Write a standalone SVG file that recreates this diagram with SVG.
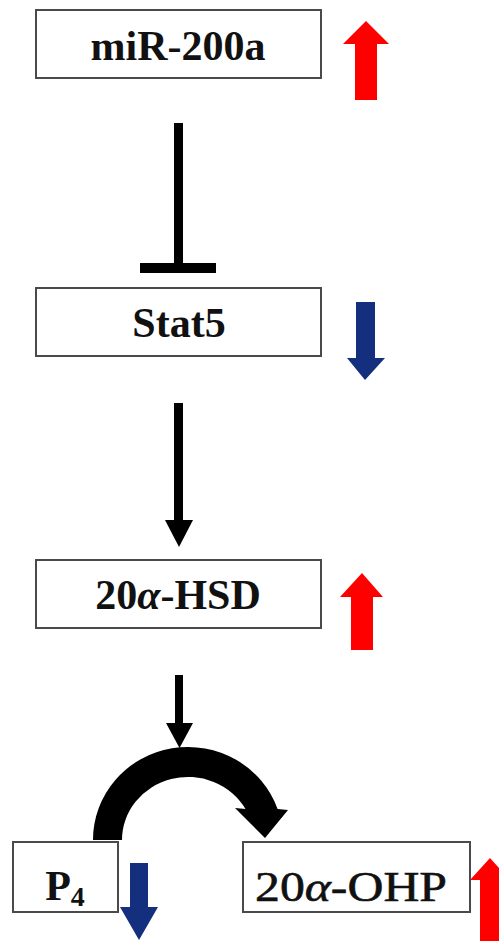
<svg xmlns="http://www.w3.org/2000/svg" width="499" height="941" viewBox="0 0 499 941">
  <style>
    .box { fill: #ffffff; stroke: #4a4a4a; stroke-width: 2; }
    .lbl { font-family: "Liberation Serif", "Times New Roman", serif; font-size: 42px; fill: #111111; text-anchor: middle; }
    .b { font-weight: bold; }
    .semi { stroke: #111111; stroke-width: 0.6; }
    .up { fill: #ff0000; }
    .down { fill: #142f7e; }
    .ink { fill: #000000; }
  </style>
  <rect width="499" height="941" fill="#ffffff"/>

  <!-- connectors -->
  <g id="connectors">
    <!-- miR-200a inhibits Stat5 -->
    <rect class="ink" x="174" y="123" width="9" height="145"/>
    <rect class="ink" x="140" y="263" width="76" height="10"/>
    <!-- Stat5 activates 20a-HSD -->
    <rect class="ink" x="174" y="403" width="9" height="120"/>
    <polygon class="ink" points="165,520 193,520 179,547"/>
    <!-- 20a-HSD acts on the conversion -->
    <rect class="ink" x="175" y="675" width="8" height="50"/>
    <polygon class="ink" points="166,723 193,723 179.5,748"/>
    <!-- P4 to 20a-OHP conversion arc -->
    <path class="ink" d="M 93 840 A 95 93 0 0 1 277.6 809 L 288 810 L 265 838 L 235 808 L 245.5 809 A 66 63 0 0 0 122 840 Z"/>
  </g>

  <!-- nodes -->
  <g id="node-mir200a">
    <rect class="box" x="36" y="10" width="285" height="68"/>
    <text class="lbl b" x="178" y="60">miR-200a</text>
    <polygon class="up" points="366,21 389,44 377,44 377,100 355,100 355,44 343,44"/>
  </g>

  <g id="node-stat5">
    <rect class="box" x="36" y="288" width="285" height="68"/>
    <text class="lbl b" x="179" y="337">Stat5</text>
    <polygon class="down" points="356,302 375,302 375,358 385,358 365,380 347,358 356,358"/>
  </g>

  <g id="node-hsd">
    <rect class="box" x="36" y="560" width="285" height="68"/>
    <text class="lbl b" x="178" y="609">20<tspan font-style="italic">α</tspan>-HSD</text>
    <polygon class="up" points="362,573 383,597 373,597 373,650 351,650 351,597 340,597"/>
  </g>

  <g id="node-p4">
    <rect class="box" x="13" y="842" width="105" height="70"/>
    <text class="lbl b" x="65" y="900">P<tspan font-size="28px" dy="6">4</tspan></text>
    <polygon class="down" points="130,863 148,863 148,907 158,907 139,940 120,907 130,907"/>
  </g>

  <g id="node-ohp">
    <rect class="box" x="243" y="842" width="227" height="70"/>
    <text class="lbl semi" x="351" y="901" textLength="192" lengthAdjust="spacingAndGlyphs">20<tspan font-style="italic">α</tspan>-OHP</text>
    <polygon class="up" points="490,858 510,880 500,880 500,941 480,941 480,880 470,880"/>
  </g>
</svg>
